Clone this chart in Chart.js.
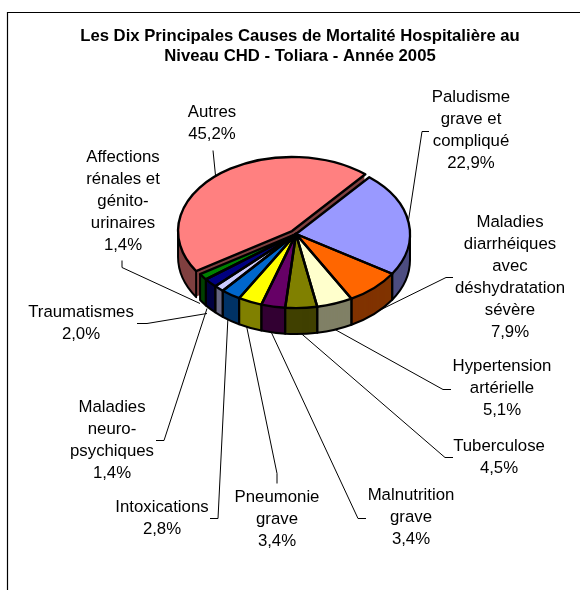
<!DOCTYPE html>
<html lang="fr">
<head>
<meta charset="utf-8">
<title>Causes de mortalité hospitalière</title>
<script src="https://cdn.jsdelivr.net/npm/chart.js@4"></script>
<style>
    html, body { margin: 0; padding: 0; background: #fff; }
    canvas { display: block; }
</style>
</head>
<body>
<canvas id="chartPie" width="580" height="590"></canvas>
<script>
const categories = [
    'Paludisme grave et compliqué', 'Maladies diarrhéiques avec déshydratation sévère',
    'Hypertension artérielle', 'Tuberculose', 'Malnutrition grave', 'Pneumonie grave',
    'Intoxications', 'Maladies neuro-psychiques', 'Traumatismes',
    'Affections rénales et génito-urinaires', 'Autres'
];
const values = [22.9, 7.9, 5.1, 4.5, 3.4, 3.4, 2.8, 1.4, 2.0, 1.4, 45.2];
const topColors = ['#9999ff', '#ff6600', '#ffffcc', '#808000', '#660066', '#ffff00', '#0066cc', '#ccccff', '#000080', '#008000', '#ff8080'];
const wallColors = ['#4d4d80', '#803300', '#808066', '#404000', '#330033', '#808000', '#003366', '#666680', '#000040', '#004000', '#804040'];
const titleLines = ['Les Dix Principales Causes de Mortalité Hospitalière au', 'Niveau CHD - Toliara - Année 2005'];

// Label placement: wrapped text, centre x, first line y, then the leader line
const labelLayout = [
    { lines: ['Paludisme', 'grave et', 'compliqué'], x: 471, y: 97, leader: [[429, 131], [422, 131], [408, 223]] },
    { lines: ['Maladies', 'diarrhéiques', 'avec', 'déshydratation', 'sévère'], x: 510, y: 222, leader: [[453, 277], [446, 277], [375, 312]] },
    { lines: ['Hypertension', 'artérielle'], x: 502, y: 366, leader: [[451, 389], [443, 389], [335, 329]] },
    { lines: ['Tuberculose'], x: 499, y: 446, leader: [[453, 457], [445, 457], [300, 332]] },
    { lines: ['Malnutrition', 'grave'], x: 411, y: 495, leader: [[366, 518], [358, 518], [270, 329]] },
    { lines: ['Pneumonie', 'grave'], x: 277, y: 497, leader: [[277, 483], [277, 473], [246, 323]] },
    { lines: ['Intoxications'], x: 162, y: 507, leader: [[210, 518], [218, 518], [228, 316]] },
    { lines: ['Maladies', 'neuro-', 'psychiques'], x: 112, y: 407, leader: [[156, 440], [164, 440], [207, 308]] },
    { lines: ['Traumatismes'], x: 81, y: 312, leader: [[137, 323], [147, 323], [207, 313]] },
    { lines: ['Affections', 'rénales et', 'génito-', 'urinaires'], x: 123, y: 157, leader: [[122, 260], [122, 267], [200, 303]] },
    { lines: ['Autres'], x: 212, y: 112, leader: [[213, 150], [216, 180]] }
];

const PIE_X = 296;
const PIE_Y = 234;
const SQUASH = 0.65;
const DEPTH = 26;
const LINE_HEIGHT = 22;
const FONT = '"Liberation Sans", Arial, sans-serif';

function project(ctx, arc) {
    ctx.translate(PIE_X, PIE_Y);
    ctx.scale(1, SQUASH);
    ctx.translate(-arc.x, -arc.y);
}

// same shift ArcElement applies for its offset option
function arcShift(arc) {
    const mid = (arc.startAngle + arc.endAngle) / 2;
    const fix = (arc.options.offset || 0) / 4;
    return [Math.cos(mid) * fix, Math.sin(mid) * fix];
}

function rimPoint(arc, angle, drop) {
    const [dx, dy] = arcShift(arc);
    return [
        PIE_X + dx + Math.cos(angle) * arc.outerRadius,
        PIE_Y + (dy + Math.sin(angle) * arc.outerRadius) * SQUASH + drop
    ];
}

function drawWithColor(ctx, arc, color) {
    const saved = arc.options;
    const savedRadius = arc.outerRadius;
    // ArcElement grows wide offset slices a little, take that back out
    const growth = (saved.offset || 0) / 4 * (1 - Math.sin(Math.min(Math.PI, arc.circumference)));
    arc.options = Object.assign({}, saved, { backgroundColor: color, borderWidth: 0 });
    arc.outerRadius = savedRadius - growth;
    arc.draw(ctx);
    arc.options = saved;
    arc.outerRadius = savedRadius;
}

const pie3d = {
    id: 'pie3d',
    beforeDraw(chart) {
        const ctx = chart.ctx;
        ctx.save();
        ctx.fillStyle = '#fff';
        ctx.fillRect(0, 0, chart.width, chart.height);
        // frame runs off the right and bottom of the picture
        ctx.strokeStyle = '#000';
        ctx.lineWidth = 1.2;
        ctx.beginPath();
        ctx.moveTo(7.5, chart.height);
        ctx.lineTo(7.5, 12.5);
        ctx.lineTo(chart.width, 12.5);
        ctx.stroke();
        ctx.restore();
    },
    beforeDatasetsDraw(chart) {
        const ctx = chart.ctx;
        const arcs = chart.getDatasetMeta(0).data;

        // leader lines go under the pie
        ctx.save();
        ctx.strokeStyle = '#000';
        ctx.lineWidth = 1;
        labelLayout.forEach(function(label) {
            ctx.beginPath();
            label.leader.forEach(function(p, i) {
                if (i === 0) ctx.moveTo(p[0], p[1] + 0.5);
                else ctx.lineTo(p[0], p[1] + 0.5);
            });
            ctx.stroke();
        });

        // far slices first so the near ones sit on top
        const order = arcs.map(function(arc, i) { return i; }).sort(function(a, b) {
            return Math.sin((arcs[a].startAngle + arcs[a].endAngle) / 2) - Math.sin((arcs[b].startAngle + arcs[b].endAngle) / 2);
        });

        // walls: the same arc repeated downwards
        order.forEach(function(i) {
            for (let d = DEPTH; d >= 1; d--) {
                ctx.save();
                ctx.translate(0, d);
                project(ctx, arcs[i]);
                drawWithColor(ctx, arcs[i], wallColors[i]);
                ctx.restore();
            }
        });

        // wall outlines, only the part of the rim facing us
        ctx.strokeStyle = '#000';
        ctx.lineWidth = 2;
        ctx.lineJoin = 'round';
        arcs.forEach(function(arc) {
            const a0 = Math.max(arc.startAngle, 0);
            const a1 = Math.min(arc.endAngle, Math.PI);
            if (a1 <= a0) return;
            const [dx, dy] = arcShift(arc);
            ctx.beginPath();
            const t0 = rimPoint(arc, a0, 0);
            ctx.moveTo(t0[0], t0[1]);
            ctx.ellipse(PIE_X + dx, PIE_Y + dy * SQUASH + DEPTH, arc.outerRadius, arc.outerRadius * SQUASH, 0, a0, a1);
            const t1 = rimPoint(arc, a1, 0);
            ctx.lineTo(t1[0], t1[1]);
            ctx.stroke();
        });

        // top faces
        order.forEach(function(i) {
            ctx.save();
            project(ctx, arcs[i]);
            drawWithColor(ctx, arcs[i], topColors[i]);
            ctx.restore();
        });

        // outlines built in screen space so the pen is not squashed
        ctx.lineWidth = 2.4;
        order.forEach(function(i) {
            const arc = arcs[i];
            const [dx, dy] = arcShift(arc);
            const hubX = PIE_X + dx;
            const hubY = PIE_Y + dy * SQUASH;
            ctx.beginPath();
            ctx.moveTo(hubX, hubY);
            ctx.ellipse(hubX, hubY, arc.outerRadius, arc.outerRadius * SQUASH, 0, arc.startAngle, arc.endAngle);
            ctx.closePath();
            ctx.stroke();
        });

        // labels
        ctx.fillStyle = '#000';
        ctx.font = '16.8px ' + FONT;
        ctx.textAlign = 'center';
        ctx.textBaseline = 'middle';
        labelLayout.forEach(function(label, i) {
            const lines = label.lines.concat(values[i].toFixed(1).replace('.', ',') + '%');
            lines.forEach(function(line, j) {
                ctx.fillText(line, label.x, label.y + j * LINE_HEIGHT);
            });
        });
        ctx.restore();
        return false;
    }
};

new Chart(document.getElementById('chartPie').getContext('2d'), {
    type: 'pie',
    data: {
        labels: categories,
        datasets: [{
            data: values,
            backgroundColor: topColors,
            borderWidth: 0,
            offset: function(context) { return context.dataIndex === values.length - 1 ? 24 : 0; }
        }]
    },
    options: {
        responsive: false,
        animation: false,
        rotation: 40,
        radius: 114,
        layout: { padding: { left: 20 } },
        plugins: {
            legend: { display: false },
            tooltip: { enabled: false },
            title: {
                display: true,
                text: titleLines,
                color: '#000',
                font: { family: FONT, size: 16.7, weight: 'bold' },
                lineHeight: 1.43,
                padding: { top: 26, bottom: 0 }
            }
        }
    },
    plugins: [pie3d]
});
</script>
</body>
</html>
